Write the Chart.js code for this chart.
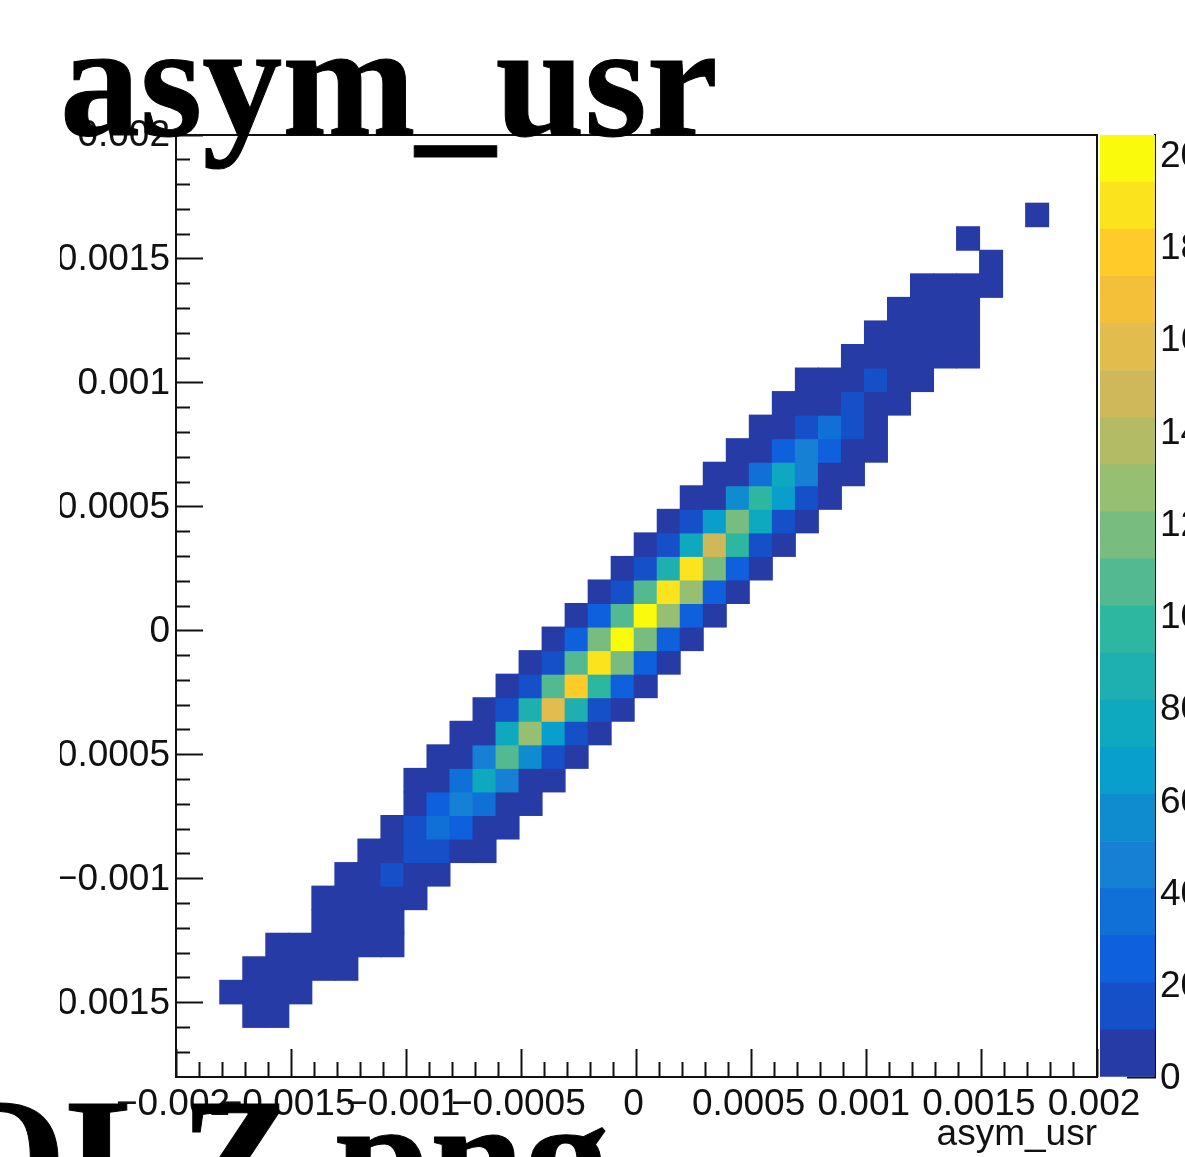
<!DOCTYPE html>
<html lang="en">
<head>
<meta charset="UTF-8">
<title>asym_usr</title>
<script src="https://cdn.jsdelivr.net/npm/chart.js"></script>
<style>
    html, body { margin: 0; padding: 0; background: #fff; }
    #page { position: relative; width: 1185px; height: 1157px; overflow: hidden; }
    canvas { position: absolute; top: 0; filter: blur(0.6px); }
    #mainChart { left: 60px; }
    #paletteChart { left: 1098px; }
    .bigText {
        position: absolute;
        font-family: "Liberation Serif", serif;
        font-weight: bold;
        color: #000;
        white-space: nowrap;
        -webkit-text-stroke: 1px #000;
        filter: blur(0.6px);
    }
    #plotTitle { left: 60px; top: 1px; font-size: 160px; line-height: 160px; }
    #fileName { left: -66px; top: 1073px; font-size: 170px; line-height: 170px; }
</style>
</head>
<body>
<div id="page">
    <canvas id="mainChart" width="1125" height="1157"></canvas>
    <canvas id="paletteChart" width="87" height="1157"></canvas>
    <div class="bigText" id="plotTitle">asym_usr</div>
    <div class="bigText" id="fileName">QLZ.png</div>
</div>

<script>
    // bin layout of the 2D histogram
    const xEdgeStart = -0.00201;
    const xBinWidth = 0.0001;
    const yEdgeStart = -0.00179;
    const yBinWidth = 0.000095;

    // one entry per row from the bottom: first filled row, first column of each row, counts
    const firstRow = 2;
    const rowStart = [3, 2, 3, 4, 6, 6, 7, 8, 9, 10, 10, 11, 12, 13, 14, 15, 16, 17, 18, 19, 20, 21, 22, 23, 24, 25, 26, 27, 29, 30, 31, 32, 35, 34, 37];
    const rowCounts = [
        [3, 2],
        [1, 3, 4, 2],
        [2, 3, 4, 3, 1],
        [2, 3, 4, 5, 4, 2],
        [4, 6, 5, 2],
        [3, 5, 8, 5, 1],
        [2, 6, 15, 7, 2],
        [3, 7, 15, 17, 6, 2],
        [5, 14, 36, 25, 7, 3],
        [4, 26, 46, 37, 8, 3],
        [2, 7, 36, 76, 46, 9, 3],
        [3, 8, 46, 107, 56, 16, 4],
        [3, 9, 76, 127, 66, 15, 3],
        [3, 14, 87, 158, 87, 16, 4],
        [4, 17, 107, 178, 97, 26, 5],
        [3, 15, 107, 188, 117, 24, 3],
        [4, 25, 117, 199, 117, 24, 4],
        [3, 26, 107, 199, 127, 25, 4],
        [3, 16, 107, 188, 127, 26, 4],
        [4, 15, 87, 188, 117, 24, 3],
        [3, 16, 76, 148, 97, 15, 3],
        [3, 14, 66, 117, 76, 14, 2],
        [4, 8, 56, 97, 66, 15, 3],
        [2, 7, 36, 76, 46, 8, 2],
        [3, 6, 25, 46, 24, 7, 2],
        [3, 8, 15, 36, 14, 5],
        [2, 6, 8, 14, 6, 2],
        [2, 5, 7, 15, 6, 2],
        [2, 4, 5, 5, 3, 1],
        [2, 3, 4, 3, 1],
        [2, 3, 3, 1],
        [1, 2, 2, 1],
        [1],
        [1],
        [1]
    ];

    const xMajorTicks = [-0.002, -0.0015, -0.001, -0.0005, 0, 0.0005, 0.001, 0.0015, 0.002];
    const xTickLabels = ['\u22120.002', '\u22120.0015', '\u22120.001', '\u22120.0005', '0', '0.0005', '0.001', '0.0015', '0.002'];
    const yMajorTicks = [-0.0015, -0.001, -0.0005, 0, 0.0005, 0.001, 0.0015, 0.002];
    const yTickLabels = ['\u22120.0015', '\u22120.001', '\u22120.0005', '0', '0.0005', '0.001', '0.0015', '0.002'];
    const xMinorTicks = [-0.0019, -0.0018, -0.0017, -0.0016, -0.0014, -0.0013, -0.0012, -0.0011, -0.0009, -0.0008, -0.0007, -0.0006, -0.0004, -0.0003, -0.0002, -0.0001, 0.0001, 0.0002, 0.0003, 0.0004, 0.0006, 0.0007, 0.0008, 0.0009, 0.0011, 0.0012, 0.0013, 0.0014, 0.0016, 0.0017, 0.0018, 0.0019];
    const yMinorTicks = [-0.0017, -0.0016, -0.0014, -0.0013, -0.0012, -0.0011, -0.0009, -0.0008, -0.0007, -0.0006, -0.0004, -0.0003, -0.0002, -0.0001, 0.0001, 0.0002, 0.0003, 0.0004, 0.0006, 0.0007, 0.0008, 0.0009, 0.0011, 0.0012, 0.0013, 0.0014, 0.0016, 0.0017, 0.0018, 0.0019];

    const paletteMax = 204.3;
    const paletteTicks = [0, 20, 40, 60, 80, 100, 120, 140, 160, 180, 200];
    const paletteColors = [
        '#273ba6', '#1650c8', '#0f60dc', '#1070d8', '#1580d4',
        '#0e8ccf', '#099fcc', '#0fa9bf', '#1eb0b0', '#2eb7a0',
        '#52b990', '#78bc80', '#97bf72', '#b3bb65', '#cfb85a',
        '#e3bc4e', '#f4c03a', '#fecb28', '#fbe31e', '#f9fa0c'
    ];

    const inkColor = '#111';
    const tickFont = { family: '"Liberation Sans", sans-serif', size: 37 };

    function colorForCount(count) {
        const band = Math.floor(count / paletteMax * paletteColors.length);
        return paletteColors[Math.min(band, paletteColors.length - 1)];
    }

    const cells = [];
    rowCounts.forEach((counts, r) => {
        const yLow = yEdgeStart + (firstRow + r) * yBinWidth;
        counts.forEach((count, c) => {
            const col = rowStart[r] + c;
            cells.push({
                x: xEdgeStart + (col + 0.5) * xBinWidth,
                y: [yLow, yLow + yBinWidth],
                count: count
            });
        });
    });

    // box around the plot area, the axes only draw left and bottom
    const frameBox = {
        id: 'frameBox',
        afterDatasetsDraw(chart) {
            const a = chart.chartArea;
            const ctx = chart.ctx;
            ctx.save();
            ctx.strokeStyle = inkColor;
            ctx.lineWidth = 2;
            ctx.strokeRect(a.left, a.top, a.right - a.left, a.bottom - a.top);
            ctx.restore();
        }
    };

    function tickAxis(values, length, extra) {
        return Object.assign({
            type: 'linear',
            offset: false,
            border: { display: false },
            grid: { offset: false, drawOnChartArea: false, tickLength: -length, color: inkColor, tickColor: inkColor, tickWidth: 2 },
            afterBuildTicks: scale => { scale.ticks = values.map(v => ({ value: v })); }
        }, extra);
    }

    new Chart(document.getElementById('mainChart'), {
        type: 'bar',
        data: {
            datasets: [{
                data: cells,
                backgroundColor: ctx => colorForCount(ctx.raw.count),
                borderWidth: 0,
                inflateAmount: 0.5,
                barPercentage: 1,
                categoryPercentage: 1,
                xAxisID: 'x',
                yAxisID: 'y'
            }]
        },
        options: {
            responsive: false,
            animation: false,
            layout: { padding: { top: 135, right: 88, bottom: 0, left: 0 } },
            plugins: { legend: { display: false }, tooltip: { enabled: false } },
            scales: {
                x: tickAxis(xMajorTicks, 28, {
                    position: 'bottom', min: -0.002, max: 0.002,
                    ticks: { font: tickFont, color: inkColor, padding: 34, labelOffset: -3, autoSkip: false, maxRotation: 0, callback: (v, i) => xTickLabels[i] },
                    title: { display: true, text: 'asym_usr', align: 'end', color: inkColor, font: { family: tickFont.family, size: 37 }, padding: 0 },
                    afterFit: s => { s.height = 80; }
                }),
                y: tickAxis(yMajorTicks, 27, {
                    position: 'left', min: -0.0018, max: 0.002,
                    ticks: { font: tickFont, color: inkColor, padding: 33, labelOffset: 1, autoSkip: false, callback: (v, i) => yTickLabels[i] },
                    afterFit: s => { s.width = 116; }
                }),
                xMinor: tickAxis(xMinorTicks, 15, {
                    position: 'bottom', min: -0.002, max: 0.002, weight: -1,
                    ticks: { display: false },
                    afterFit: s => { s.height = 0; }
                }),
                yMinor: tickAxis(yMinorTicks, 14, {
                    position: 'left', min: -0.0018, max: 0.002, weight: -1,
                    ticks: { display: false },
                    afterFit: s => { s.width = 0; }
                })
            }
        },
        plugins: [frameBox]
    });

    // palette axis on the right, drawn as floating bars on its own scale
    new Chart(document.getElementById('paletteChart'), {
        type: 'bar',
        data: {
            labels: ['z'],
            datasets: paletteColors.map((color, i) => ({
                data: [[i * paletteMax / paletteColors.length, (i + 1) * paletteMax / paletteColors.length]],
                backgroundColor: color,
                borderWidth: 0,
                grouped: false,
                barPercentage: 1,
                categoryPercentage: 1
            }))
        },
        options: {
            responsive: false,
            animation: false,
            layout: { padding: { top: 135, right: 0, bottom: 80, left: 2 } },
            plugins: { legend: { display: false }, tooltip: { enabled: false } },
            scales: {
                x: { display: false },
                y: {
                    type: 'linear',
                    position: 'right',
                    min: 0,
                    max: paletteMax,
                    border: { display: true, color: inkColor, width: 2 },
                    grid: { drawOnChartArea: false, tickLength: -28, tickColor: '#111', tickWidth: 2 },
                    ticks: { font: tickFont, color: inkColor, padding: 33, labelOffset: 2, autoSkip: false },
                    afterBuildTicks: scale => { scale.ticks = paletteTicks.map(v => ({ value: v })); },
                    afterFit: s => { s.width = 30; }
                }
            }
        }
    });
</script>
</body>
</html>
